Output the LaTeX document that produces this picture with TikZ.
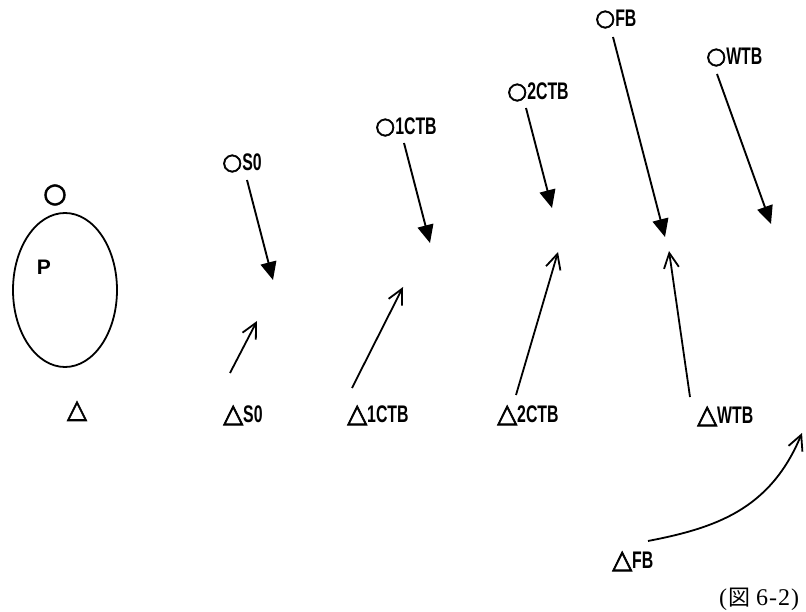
\documentclass[tikz,border=0pt]{standalone}
\usepackage{fontspec}
\usetikzlibrary{arrows.meta,shapes.geometric}
\newfontfamily\labfont[FakeStretch=0.66]{Liberation Sans}
\newfontfamily\plainfont{Liberation Sans}
\newfontfamily\symfont[FakeBold=2.5]{DejaVu Sans}
\newfontfamily\cjk{Noto Sans CJK JP}
\newfontfamily\capfont{Liberation Serif}
% position markers and condensed tag lettering
\newcommand\opos{\raisebox{1.5pt}{\symfont\fontsize{23}{23}\selectfont ○}}
\newcommand\tpos{{\symfont\fontsize{26}{26}\selectfont △}}
\newcommand\lab[1]{{\labfont\bfseries\fontsize{24}{24}\selectfont #1}}
\begin{document}
\begin{tikzpicture}[x=1pt,y=-1pt,
  tag/.style={inner sep=0pt,anchor=base west},
  fall/.style={line width=1.9pt,-{Triangle[length=18pt,width=16pt]}},
  rise/.style={line width=1.8pt,-{Straight Barb[length=15pt,width=15pt,line width=1.8pt]}},
  outline/.style={draw,line width=1.8pt,ellipse,inner sep=0pt}]
\useasboundingbox (0,0) rectangle (806,612);

% body with its marker
\node[outline,minimum width=104pt,minimum height=154pt] (body) at (65,290) {};
\node[inner sep=0pt] (otop) at (55,195) {{\symfont\fontsize{27}{27}\selectfont ○}};
\node[inner sep=0pt] (P) at (44,267) {{\plainfont\bfseries\fontsize{21}{21}\selectfont P}};
\node[inner sep=0pt] (tbot) at (77,411) {\tpos};

% upper tags
\node[tag] (oS0)  at (222,171) {\opos\lab{S0}};
\node[tag] (o1)   at (375,135) {\opos\lab{1CTB}};
\node[tag] (o2)   at (507,100) {\opos\lab{2CTB}};
\node[tag] (oFB)  at (595,27)  {\opos\lab{FB}};
\node[tag] (oWTB) at (706,65)  {\opos\lab{WTB}};

% lower tags
\node[tag] (tS0)  at (223,422) {\tpos\lab{S0}};
\node[tag] (t1)   at (347,422) {\tpos\lab{1CTB}};
\node[tag] (t2)   at (497,422) {\tpos\lab{2CTB}};
\node[tag] (tWTB) at (697,423) {\tpos\lab{WTB}};
\node[tag] (tFB)  at (612,568) {\tpos\lab{FB}};

% caption
\node[tag] (cap) at (719,605) {\capfont\fontsize{24}{24}\selectfont
  (\kern1pt{\cjk\fontsize{22}{22}\selectfont 図}\kern6pt 6\kern1pt-\kern1pt2\kern1pt)};

% arrow end points
\coordinate (dS0a) at (247,180);  \coordinate (dS0b) at (273,280);
\coordinate (d1a)  at (404,143);  \coordinate (d1b)  at (430,243);
\coordinate (d2a)  at (526,108);  \coordinate (d2b)  at (552,208);
\coordinate (dFBa) at (613,37);   \coordinate (dFBb) at (665,237);
\coordinate (dWa)  at (717,74);   \coordinate (dWb)  at (771,224);

\coordinate (uS0a) at (230,373);  \coordinate (uS0b) at (257,321);
\coordinate (u1a)  at (352,388);  \coordinate (u1b)  at (403,287);
\coordinate (u2a)  at (516,395);  \coordinate (u2b)  at (558,252);
\coordinate (uWa)  at (690,397);  \coordinate (uWb)  at (669,251);
\coordinate (uFBa) at (648,541);  \coordinate (uFBb) at (802,433);

% downward arrows
\draw[fall] (dS0a) -- (dS0b);
\draw[fall] (d1a) -- (d1b);
\draw[fall] (d2a) -- (d2b);
\draw[fall] (dFBa) -- (dFBb);
\draw[fall] (dWa) -- (dWb);

% upward arrows
\draw[rise] (uS0a) -- (uS0b);
\draw[rise] (u1a) -- (u1b);
\draw[rise] (u2a) -- (u2b);
\draw[rise] (uWa) -- (uWb);
\draw[rise] (uFBa) .. controls (715,528) and (770,510) .. (uFBb);
\end{tikzpicture}
\end{document}
